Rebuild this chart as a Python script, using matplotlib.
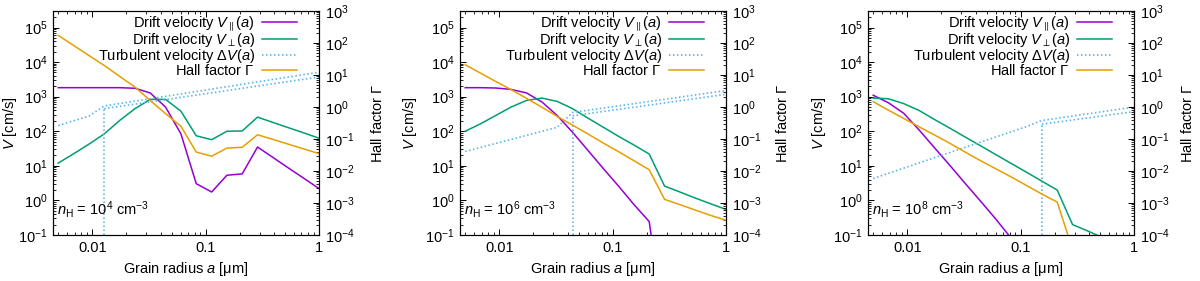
import numpy as np
import matplotlib
matplotlib.use('Agg')
import matplotlib.pyplot as plt

plt.rcParams['font.family'] = ['Liberation Sans', 'DejaVu Sans']
plt.rcParams['mathtext.fontset'] = 'custom'
plt.rcParams['mathtext.rm'] = 'Liberation Sans'
plt.rcParams['mathtext.it'] = 'Liberation Sans:italic'
plt.rcParams['font.size'] = 10.5

# grain radius grid [um]
radius = [0.005, 0.0068, 0.0093, 0.0127, 0.0174, 0.0238, 0.0324, 0.0443, 0.0605,
          0.0826, 0.113, 0.154, 0.210, 0.287, 0.392, 0.536, 0.732, 1.0]

# n_H = 1e4
v_par_4 = [1820, 1820, 1820, 1820, 1820, 1750, 1280, 500, 84, 3.05, 1.75, 5.35, 5.85, 35, 17.5, 8.7, 4.4, 2.2]
v_perp_4 = [12, 22, 42, 83, 204, 450, 835, 835, 380, 74, 57, 100, 102, 256, 180, 127, 90, 63]
gamma_4 = [174, 85, 41, 20, 9.1, 4.2, 1.6, 0.62, 0.25, 0.039, 0.029, 0.052, 0.055, 0.136, 0.097, 0.069, 0.049, 0.035]
dv_up_x_4 = [0.005, 0.0068, 0.0093, 0.0127, 1.0]
dv_up_4 = [146, 200, 272, 537, 5100]
dv_lo_x_4 = [0.0127, 1.0]
dv_lo_4 = [450, 3700]

# n_H = 1e6
v_par_6 = [1820, 1820, 1780, 1620, 1280, 700, 286, 93, 28, 8.4, 2.57, 0.76, 0.245, 2e-4]
v_perp_6 = [100, 163, 286, 500, 780, 910, 730, 450, 240, 131, 71, 40, 22, 2.6, 1.75, 1.17, 0.8, 0.55]
gamma_6 = [21, 11.5, 6.3, 3.5, 1.86, 0.98, 0.51, 0.27, 0.144, 0.075, 0.04, 0.021, 0.011,
           0.0013, 8.9e-4, 6.0e-4, 4.1e-4, 2.9e-4]
dv_up_x_6 = [0.005, 0.0324, 0.0443, 1.0]
dv_up_6 = [26, 130, 350, 1500]
dv_lo_x_6 = [0.0443, 1.0]
dv_lo_6 = [280, 1170]

# n_H = 1e8
v_par_8 = [1100, 670, 330, 109, 33, 10.2, 3.1, 0.95, 0.286, 0.08]
v_perp_8 = [910, 870, 630, 400, 218, 122, 68, 38, 21, 11.7, 6.5, 3.6, 2.0, 0.2, 0.13, 0.082, 0.052, 0.033]
gamma_8 = [1.47, 0.80, 0.44, 0.24, 0.133, 0.073, 0.039, 0.021, 0.0117, 0.0065, 0.0035, 0.0019, 0.00107, 3.6e-5]
dv_up_x_8 = [0.005, 0.113, 0.154, 1.0]
dv_up_8 = [4.3, 137, 205, 500]
dv_lo_x_8 = [0.154, 1.0]
dv_lo_8 = [160, 370]

panels = [
    ('4', v_par_4, v_perp_4, gamma_4, dv_up_x_4, dv_up_4, dv_lo_x_4, dv_lo_4),
    ('6', v_par_6, v_perp_6, gamma_6, dv_up_x_6, dv_up_6, dv_lo_x_6, dv_lo_6),
    ('8', v_par_8, v_perp_8, gamma_8, dv_up_x_8, dv_up_8, dv_lo_x_8, dv_lo_8),
]

c_par = '#9400d3'
c_perp = '#009e73'
c_dv = '#56b4e9'
c_gam = '#e69f00'
dots = (0, (0.9, 1.5))

fig = plt.figure(figsize=(12, 2.81), dpi=100)
lefts = [53, 460, 868]
ylab_l = [-34, -41, -40]
ylab_r = [51, 49, 46]

for i, (n, vpar, vperp, gam, dux, du, dlx, dl) in enumerate(panels):
    ax = fig.add_axes([lefts[i] / 1200, 46 / 281, 266 / 1200, 224 / 281])
    ax2 = ax.twinx()
    ax.set_xscale('log')
    ax.set_yscale('log')
    ax2.set_yscale('log')
    ax.set_xlim(0.0045, 1)
    ax.set_ylim(0.1, 3e5)
    ax2.set_ylim(1e-4, 1e3)

    l1, = ax.plot(radius[:len(vpar)], vpar, color=c_par, lw=1.1)
    l2, = ax.plot(radius[:len(vperp)], vperp, color=c_perp, lw=1.1)
    l3, = ax.plot(dux, du, color=c_dv, lw=1.2, ls=dots)
    ax.plot(dlx, dl, color=c_dv, lw=1.2, ls=dots)
    ax.plot([dlx[0], dlx[0]], [0.1, dl[0]], color=c_dv, lw=1.2, ls=dots)
    l4, = ax2.plot(radius[:len(gam)], gam, color=c_gam, lw=1.1)

    ax.set_xticks([0.01, 0.1, 1])
    ax.set_xticklabels(['0.01', '0.1', '1'])
    ax.tick_params(which='both', direction='in', top=True, right=False)
    ax.tick_params(which='major', length=4, width=0.7, pad=4)
    ax.tick_params(which='minor', length=2, width=0.6)
    ax2.tick_params(which='both', direction='in')
    ax2.tick_params(which='major', length=4, width=0.7, pad=4)
    ax2.tick_params(which='minor', length=2, width=0.6)
    for a in (ax, ax2):
        for s in a.spines.values():
            s.set_linewidth(0.8)

    ax.set_xlabel(r'Grain radius $a$ [$\mathrm{\mu}$m]', labelpad=4)
    ax.set_ylabel(r'$V$ [cm/s]')
    ax.yaxis.set_label_coords(ylab_l[i] / 266, 0.5)
    ax2.set_ylabel(r'Hall factor $\Gamma$', rotation=90)
    ax2.yaxis.set_label_coords(1 + ylab_r[i] / 266, 0.5)
    ax.text(0.015, 0.09, r'$n_{\mathrm{H}}$ = 10$^{' + n + r'}$ cm$^{-3}$', transform=ax.transAxes)

    ax2.legend([l1, l2, l3, l4],
               [r'Drift velocity $V_{\parallel}(a)$', r'Drift velocity $V_{\perp}(a)$',
                r'Turbulent velocity $\Delta V(a)$', r'Hall factor $\Gamma$'],
               loc='upper right', bbox_to_anchor=(0.94, 1.01), frameon=False, markerfirst=False,
               handlelength=2.4, handletextpad=0.5, labelspacing=-0.15, borderaxespad=0)

fig.savefig('out.png', dpi=100)
